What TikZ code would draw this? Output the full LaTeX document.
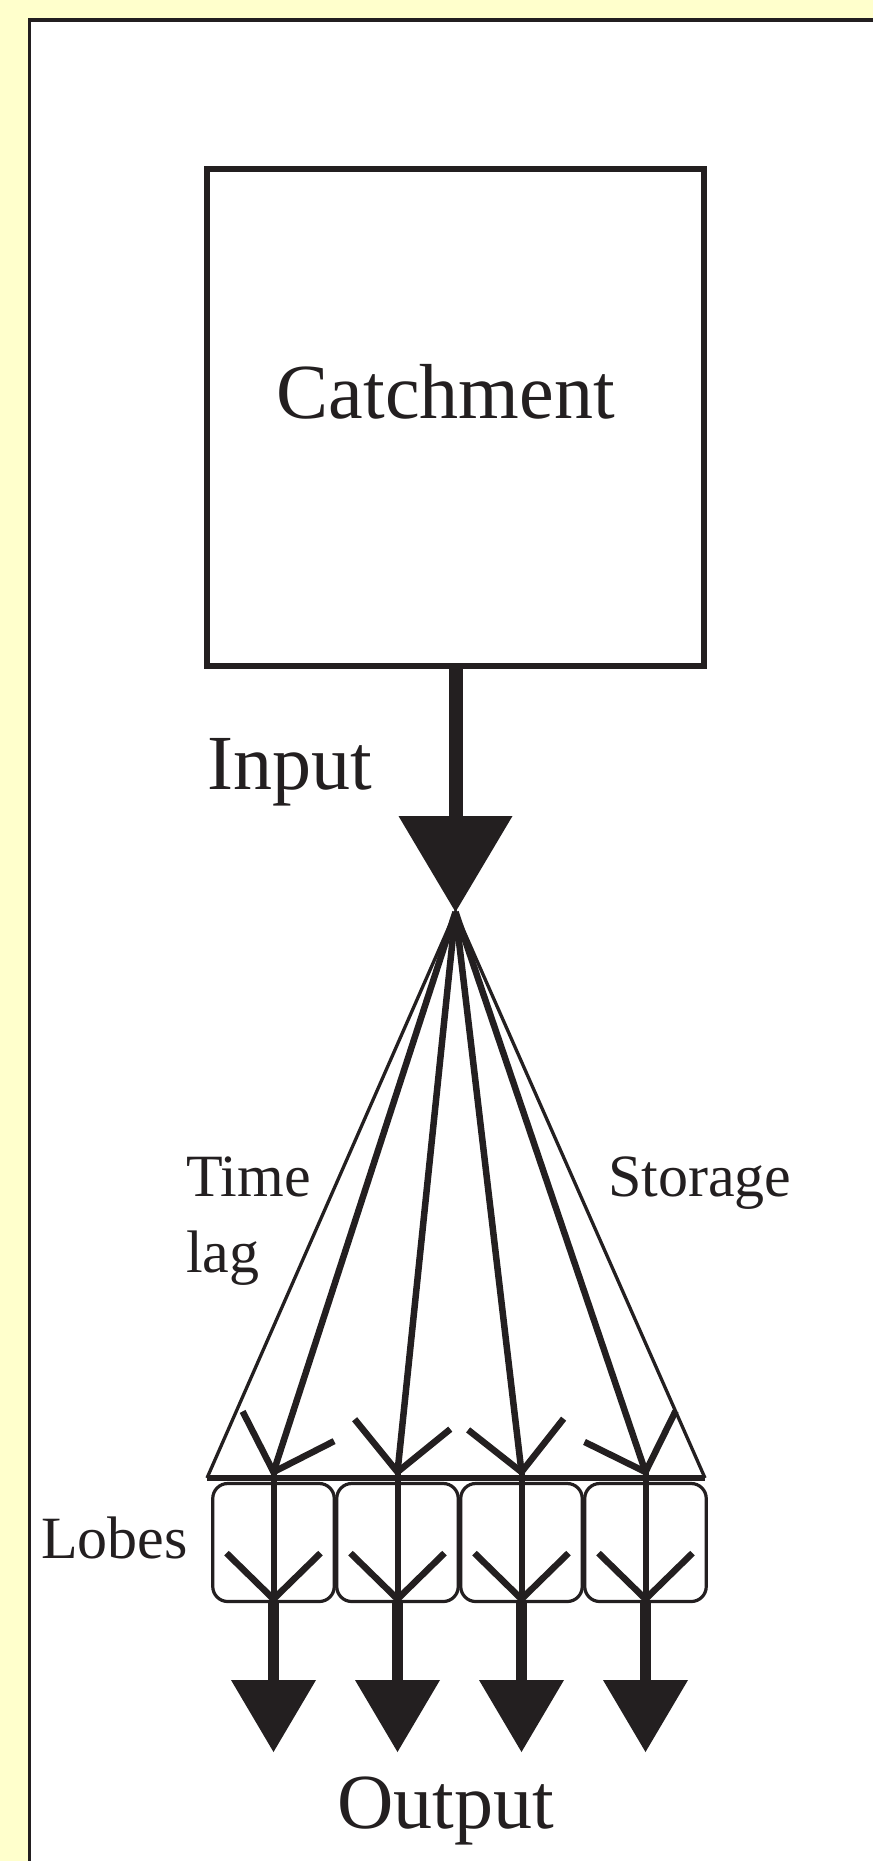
\documentclass[tikz,border=0pt]{standalone}
\usepackage{fontspec}
\setmainfont{Liberation Serif}
\usetikzlibrary{arrows.meta,calc}
\definecolor{ink}{RGB}{35,31,32}
\definecolor{paper}{RGB}{255,255,204}
\begin{document}
\begin{tikzpicture}[x=1pt,y=-1pt,
  catchbox/.style={draw=ink, line width=6.5pt, minimum width=497pt, minimum height=497pt, inner sep=0pt},
  lobe/.style={draw=ink, line width=3.2pt, rounded corners=15pt, minimum width=121.5pt, minimum height=118pt, inner sep=0pt},
  biglbl/.style={font=\fontsize{78pt}{94pt}\selectfont, text=ink, inner sep=0pt},
  lbl/.style={font=\fontsize{60pt}{72pt}\selectfont, text=ink, inner sep=0pt},
  fanside/.style={draw=ink, line width=3.3pt},
  fanbase/.style={draw=ink, line width=5.5pt},
  fanline/.style={draw=ink, line width=6.5pt},
  barb/.style={draw=ink, line width=6.5pt, line join=miter},
  stemthin/.style={draw=ink, line width=6pt},
  instem/.style={draw=ink, line width=14pt, -{Triangle[width=114pt,length=96pt,line width=0pt]}},
  outstem/.style={draw=ink, line width=10.5pt, -{Triangle[width=85pt,length=72pt,line width=0pt]}},
  frame/.style={draw=ink, line width=3.5pt},
]
% page and panel
\useasboundingbox (0,0) rectangle (873,1861);
\fill[paper] (0,0) rectangle (873,1861);
\fill[white] (29.5,20) rectangle (873,1861);
\draw[frame] (29.5,1861) -- (29.5,20) -- (873,20);

% catchment
\node[catchbox] (catch) at (455.5,417.5) {};
\node[biglbl, anchor=base] (catchlbl) at (445.8,418) {Catchment};

% input arrow into the fan apex
\coordinate (apex) at (455.5,912);
\draw[instem] (catch.south) -- (apex);
\node[biglbl, anchor=base west] (input) at (207,789) {Input};

% fan outline
\coordinate (bl) at (207,1478);
\coordinate (br) at (705,1478);
\draw[fanside] (bl) -- (apex) -- (br);
\draw[fanbase] (bl) -- (br);

\node[lbl, anchor=base west] (time) at (186,1196) {Time};
\node[lbl, anchor=base west] (lag) at (186,1272) {lag};
\node[lbl, anchor=base west] (storage) at (608,1196) {Storage};
\node[lbl, anchor=base west] (lobes) at (41,1558) {Lobes};

% lobes, routed flows and outputs
\foreach \k/\x in {1/273.5, 2/397.5, 3/521.5, 4/645.5} {
  \node[lobe] (lobe\k) at (\x,1542.5) {};
  \coordinate (t\k) at (\x,1472);
  \coordinate (v\k) at ($(lobe\k.south)+(0,-4)$);
  \coordinate (out\k) at (\x,1752);
  \draw[fanline] (apex) -- (t\k);
  \draw[barb] ($(t\k)!68pt!45:(apex)$) -- (t\k) -- ($(t\k)!68pt!-45:(apex)$);
  \draw[stemthin] (t\k) -- (lobe\k.south);
  \draw[barb] ($(v\k)+(-47,-46)$) -- (v\k) -- ($(v\k)+(47,-46)$);
  \draw[outstem] (lobe\k.south) -- (out\k);
}

\node[biglbl, anchor=base] (output) at (445.5,1828) {Output};
\end{tikzpicture}
\end{document}
